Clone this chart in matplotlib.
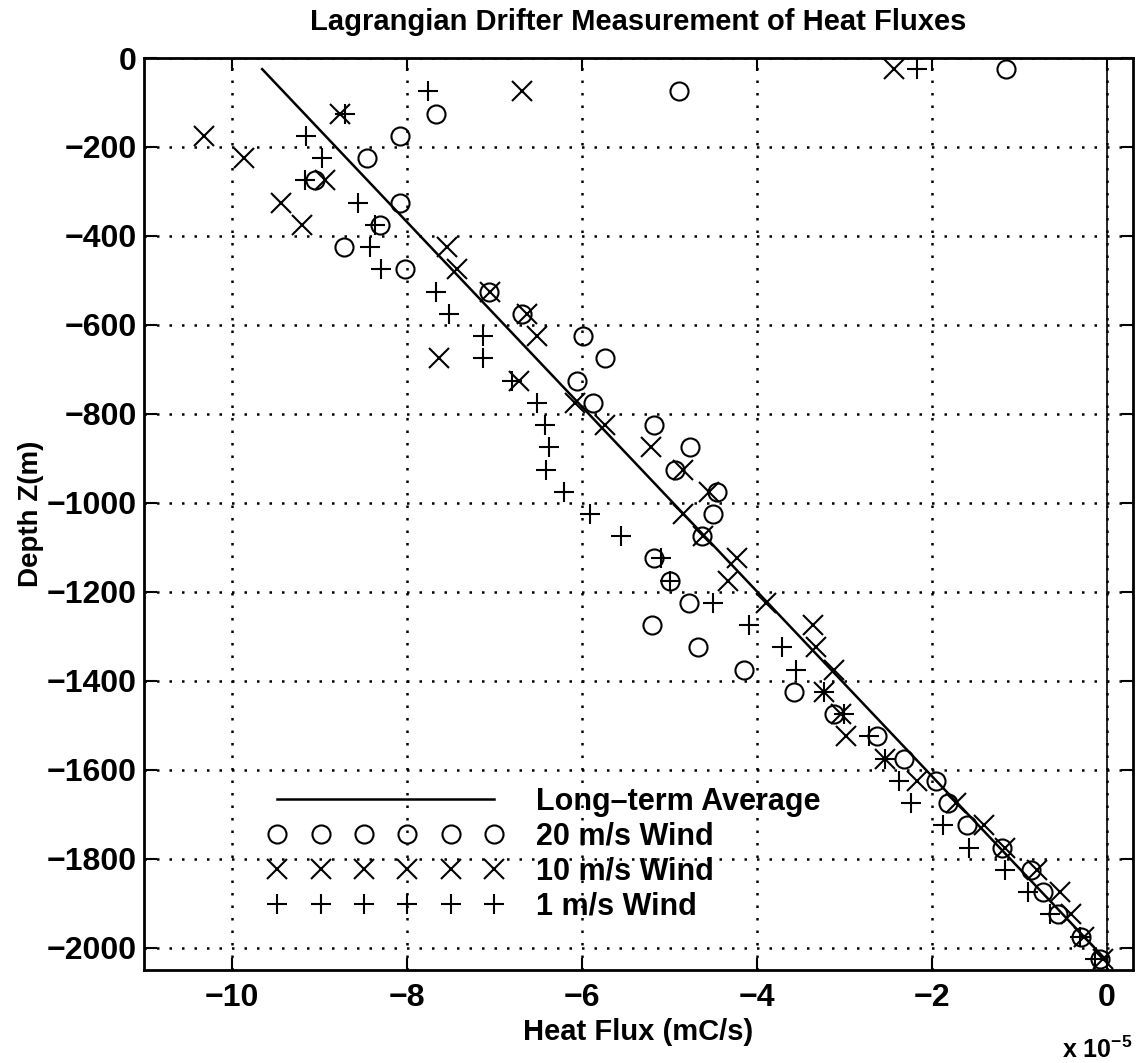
import numpy as np
import matplotlib
matplotlib.use("Agg")
import matplotlib.pyplot as plt

# depth levels (m), one measurement per level for every wind case
depth = np.arange(-25, -2026, -50)

# heat flux in units of 1e-5 mC/s
flux_20 = [-1.15, -4.89, -7.66, -8.08, -8.45, -9.05, -8.08, -8.30, -8.72, -8.02,
           -7.06, -6.68, -5.98, -5.73, -6.05, -5.875, -5.17, -4.76, -4.93, -4.45,
           -4.50, -4.63, -5.17, -4.985, -4.77, -5.20, -4.67, -4.15, -3.57, -3.12,
           -2.63, -2.32, -1.95, -1.81, -1.60, -1.20, -0.86, -0.73, -0.555, -0.29,
           -0.08]
flux_10 = [-2.43, -6.68, -8.76, -10.32, -9.86, -8.93, -9.43, -9.20, -7.54, -7.42,
           -7.05, -6.62, -6.51, -7.63, -6.72, -6.08, -5.73, -5.21, -4.845, -4.54,
           -4.845, -4.61, -4.23, -4.33, -3.89, -3.36, -3.32, -3.12, -3.23, -3.04,
           -2.98, -2.53, -2.17, -1.72, -1.40, -1.16, -0.80, -0.535, -0.41, -0.26,
           -0.04]
flux_1 = [-2.17, -7.75, -8.70, -9.15, -8.97, -9.16, -8.55, -8.36, -8.42, -8.29,
          -7.66, -7.52, -7.13, -7.13, -6.80, -6.51, -6.42, -6.37, -6.41, -6.20,
          -5.905, -5.545, -5.09, -4.985, -4.50, -4.09, -3.71, -3.55, -3.23, -3.00,
          -2.72, -2.53, -2.37, -2.24, -1.87, -1.57, -1.16, -0.90, -0.65, -0.30,
          -0.13]

# long-term average (straight line between surface and bottom)
avg_depth = [-25, -2025]
avg_flux = [-9.65, -0.02]

plt.rcParams["font.family"] = ["Liberation Sans", "DejaVu Sans"]
plt.rcParams["font.size"] = 22
plt.rcParams["font.weight"] = "bold"
plt.rcParams["axes.titleweight"] = "bold"
plt.rcParams["axes.labelweight"] = "bold"
plt.rcParams["mathtext.default"] = "regular"

W, H = 1139, 1063
fig = plt.figure(figsize=(W / 100, H / 100), dpi=100)
ax = fig.add_axes([144 / W, 1 - 970 / H, (1133 - 144) / W, (970 - 58) / H])

ax.plot(avg_flux, avg_depth, "-", color="black", lw=1.8, label="Long\u2013term Average")
ax.plot(flux_20, depth, "o", ms=13, mfc="none", mec="black", mew=1.5, label="20 m/s Wind")
ax.plot(flux_10, depth, "x", ms=14, mec="black", mew=1.5, label="10 m/s Wind")
ax.plot(flux_1, depth, "+", ms=14, mec="black", mew=1.5, label="1 m/s Wind")
ax.axvline(0, color="black", lw=1.2)

ax.set_xlim(-11, 0.3)
ax.set_ylim(-2050, 0)
ax.set_xticks(np.arange(-10, 1, 2))
ax.set_yticks(np.arange(-2000, 1, 200))
ax.grid(True, color="black", linestyle=(0, (1, 4)), linewidth=1.8)
ax.tick_params(direction="in", length=9, width=1.5, top=True, right=True,
               labelsize=23)
ax.tick_params(axis="x", pad=9)
ax.tick_params(axis="y", pad=5)
for s in ax.spines.values():
    s.set_linewidth(2)

ax.set_title("Lagrangian Drifter Measurement of Heat Fluxes", fontsize=21, pad=20)
ax.set_xlabel("Heat Flux (mC/s)", fontsize=21, labelpad=4)
ax.set_ylabel("Depth Z(m)", fontsize=20, labelpad=2)
fig.text(1132 / W, 1 - 1050 / H, r"x 10$^{-5}$", ha="right", va="center",
         fontsize=18)

ax.legend(loc="upper left", bbox_to_anchor=(0.1254, 0.201), frameon=False,
          numpoints=6, handlelength=7.7, handletextpad=1.08, labelspacing=0.16,
          borderpad=0, borderaxespad=0)

fig.savefig("out.png", dpi=100)
